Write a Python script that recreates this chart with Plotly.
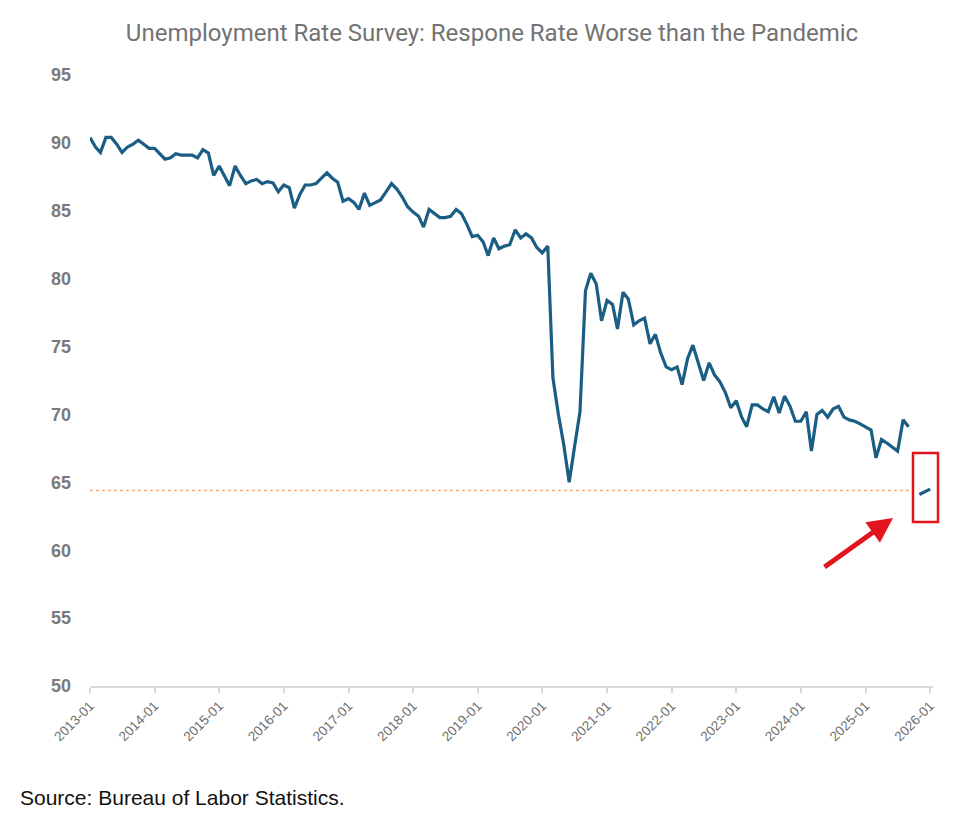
import pandas as pd
import plotly.graph_objects as go

# ---- data (monthly CPS response rate, %) ----
start_month = "2013-01-01"
rate_values = [
    # 2013
    90.4, 89.7, 89.3, 90.4, 90.4, 89.9, 89.3, 89.7, 89.9, 90.2, 89.9, 89.6,
    # 2014
    89.6, 89.2, 88.8, 88.9, 89.2, 89.1, 89.1, 89.1, 88.9, 89.5, 89.25, 87.6,
    # 2015
    88.3, 87.5, 86.85, 88.3, 87.6, 87.0, 87.2, 87.3, 87.0, 87.15, 87.05, 86.4,
    # 2016
    86.9, 86.7, 85.2, 86.2, 86.9, 86.9, 87.0, 87.4, 87.8, 87.4, 87.1, 85.7,
    # 2017
    85.9, 85.6, 85.1, 86.3, 85.4, 85.6, 85.8, 86.4, 87.0, 86.6, 86.0, 85.3,
    # 2018
    84.9, 84.6, 83.8, 85.1, 84.8, 84.5, 84.5, 84.6, 85.1, 84.8, 84.0, 83.1,
    # 2019
    83.2, 82.7, 81.7, 83.0, 82.2, 82.4, 82.5, 83.6, 83.0, 83.3, 83.0, 82.3,
    # 2020
    81.9, 82.4, 72.7, 70.0, 67.8, 65.0, 67.6, 70.2, 79.1, 80.4, 79.6, 76.9,
    # 2021
    78.4, 78.1, 76.3, 79.0, 78.5, 76.6, 76.9, 77.1, 75.2, 75.9, 74.5, 73.5,
    # 2022
    73.3, 73.5, 72.2, 74.1, 75.1, 73.8, 72.5, 73.8, 72.9, 72.4, 71.6, 70.5,
    # 2023
    71.0, 69.8, 69.1, 70.7, 70.7, 70.4, 70.2, 71.3, 70.1, 71.35, 70.6, 69.5,
    # 2024
    69.5, 70.2, 67.3, 70.0, 70.3, 69.8, 70.4, 70.6, 69.8, 69.6, 69.5, 69.3,
    # 2025 (Oct 2025 missing)
    69.1, 68.85, 66.8, 68.15, 67.9, 67.6, 67.3, 69.6, 69.1, None, 64.1, 64.3,
    # 2026
    64.5,
]
dates = pd.date_range(start_month, periods=len(rate_values), freq="MS")

ref_level = 64.4
ref_end = "2025-10-01"
ref_dates = pd.date_range(start_month, ref_end, freq="MS")
ref_values = [ref_level] * len(ref_dates)

y_ticks = [50, 55, 60, 65, 70, 75, 80, 85, 90, 95]

title_text = "Unemployment Rate Survey: Respone Rate Worse than the Pandemic"
source_text = "Source: Bureau of Labor Statistics."

# ---- figure ----
W, H = 975, 814
L, R, T, B = 90, 42, 75, 128

fig = go.Figure()
fig.add_trace(go.Scatter(
    x=ref_dates, y=ref_values, mode="lines",
    line=dict(color="#f4b183", width=1.5, dash="dot"),
    hoverinfo="skip", showlegend=False,
))
fig.add_trace(go.Scatter(
    x=dates, y=rate_values, mode="lines",
    line=dict(color="#1b5e84", width=3.2),
    connectgaps=False, showlegend=False,
))

pw = W - L - R
ph = H - T - B

def px_x(p):
    return (p - L) / pw

def px_y(p):
    return (H - B - p) / ph

# red highlight box
fig.add_shape(type="rect", xref="paper", yref="paper",
              x0=px_x(913), x1=px_x(938), y0=px_y(522), y1=px_y(453),
              line=dict(color="#e3141e", width=2.5), fillcolor="rgba(0,0,0,0)")

# red arrow
fig.add_annotation(xref="paper", yref="paper", x=px_x(893), y=px_y(518),
                   ax=-70, ay=50, axref="pixel", ayref="pixel",
                   text="", showarrow=True, arrowhead=2, arrowsize=1,
                   arrowwidth=5, arrowcolor="#e3141e")

# source
fig.add_annotation(xref="paper", yref="paper", x=px_x(18), y=px_y(797),
                   xanchor="left", yanchor="middle", showarrow=False,
                   text=source_text,
                   font=dict(family="Liberation Sans, Arial", size=21, color="#111111"))

fig.update_layout(
    width=W, height=H,
    margin=dict(l=L, r=R, t=T, b=B, autoexpand=False),
    paper_bgcolor="white", plot_bgcolor="white",
    title=dict(text=title_text, x=492 / W, y=1 - 33 / H,
               xanchor="center", yanchor="middle",
               font=dict(family="Roboto, Arial", size=24, color="#737373")),
    xaxis=dict(
        type="date",
        range=["2013-01-01", "2026-01-17"],
        tick0="2013-01-01", dtick="M12", tickformat="%Y-%m",
        tickangle=-45,
        tickfont=dict(family="Liberation Sans, Arial", size=13.5, color="#6f6f6f"),
        showgrid=False, zeroline=False,
        showline=True, linecolor="#d9d9d9", linewidth=1.5,
        ticks="outside", ticklen=5, tickcolor="#d9d9d9", tickwidth=1.5,
    ),
    yaxis=dict(
        range=[50, 95],
        tickvals=y_ticks,
        tickfont=dict(family="Liberation Sans, Arial", size=18, color="#7a7a7a", weight=600),
        showgrid=False, zeroline=False, showline=False,
        ticks="", ticklabelstandoff=18,
    ),
)

fig.write_html("out.html")
